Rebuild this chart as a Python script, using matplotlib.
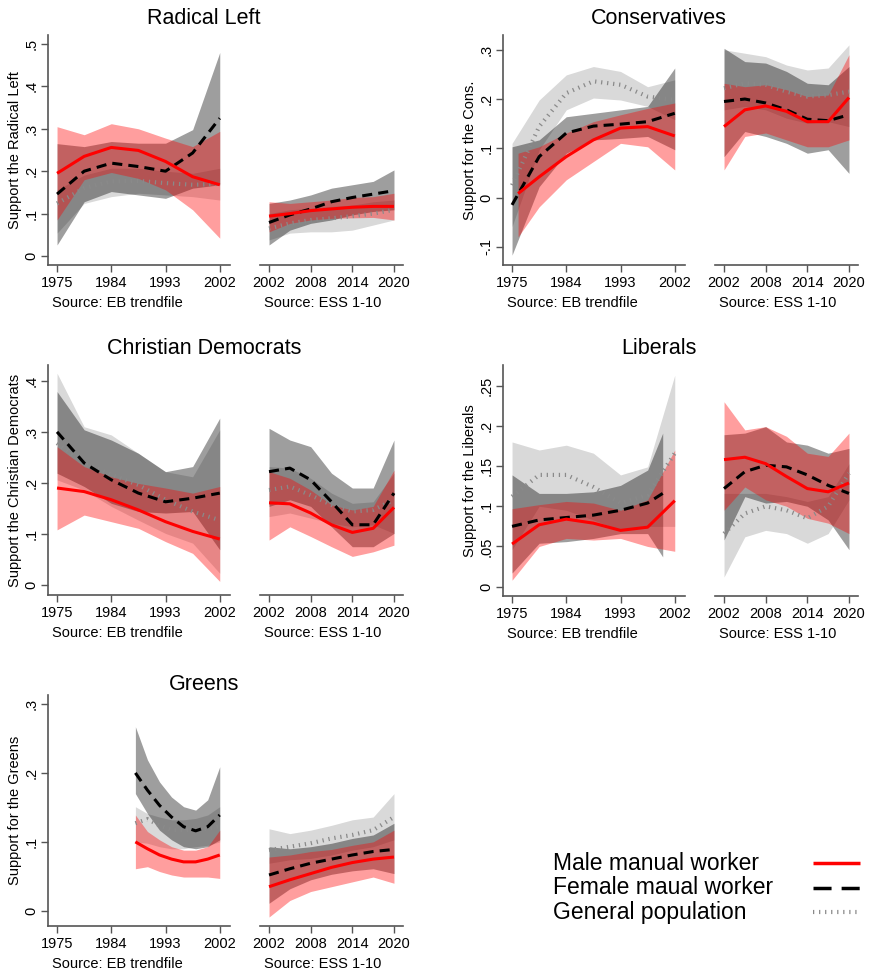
import matplotlib
matplotlib.use('Agg')
import matplotlib.pyplot as plt
from matplotlib.lines import Line2D

plt.rcParams['font.family'] = ['Liberation Sans', 'DejaVu Sans']

# ---- data: each group = [mean, lower CI, upper CI] ----
eb_years = [1975, 1979.5, 1984, 1988.5, 1993, 1997.5, 2002]
ess_years = [2002, 2005, 2008, 2011, 2014, 2017, 2020]
cons_eb_male_years = [1976, 1979.5, 1984, 1988.5, 1993, 1997.5, 2002]
lib_eb_female_years = [1975, 1979.5, 1984, 1988.5, 1993, 1997.5, 2000]
grn_eb_years = [1988, 1990, 1992, 1994, 1996, 1998, 2000, 2002]

# Radical Left
rl_eb_male = [[0.195, 0.235, 0.256, 0.249, 0.223, 0.187, 0.168],
              [0.085, 0.180, 0.197, 0.183, 0.156, 0.109, 0.042],
              [0.305, 0.286, 0.312, 0.300, 0.278, 0.258, 0.294]]
rl_eb_female = [[0.146, 0.200, 0.219, 0.211, 0.200, 0.243, 0.325],
                [0.026, 0.128, 0.152, 0.144, 0.136, 0.160, 0.168],
                [0.265, 0.258, 0.270, 0.266, 0.266, 0.298, 0.480]]
rl_eb_gen = [[0.124, 0.160, 0.176, 0.177, 0.172, 0.168, 0.170],
             [0.054, 0.124, 0.140, 0.148, 0.144, 0.140, 0.132],
             [0.156, 0.191, 0.207, 0.207, 0.200, 0.195, 0.207]]
rl_ess_male = [[0.094, 0.100, 0.107, 0.111, 0.115, 0.117, 0.117],
               [0.057, 0.077, 0.085, 0.089, 0.090, 0.091, 0.085],
               [0.128, 0.124, 0.128, 0.132, 0.138, 0.140, 0.148]]
rl_ess_female = [[0.079, 0.097, 0.111, 0.128, 0.138, 0.146, 0.154],
                 [0.026, 0.061, 0.077, 0.085, 0.097, 0.105, 0.109],
                 [0.124, 0.132, 0.144, 0.160, 0.168, 0.176, 0.203]]
rl_ess_gen = [[0.065, 0.077, 0.085, 0.089, 0.094, 0.100, 0.109],
              [0.038, 0.054, 0.057, 0.057, 0.061, 0.073, 0.085],
              [0.100, 0.109, 0.113, 0.117, 0.120, 0.128, 0.132]]

# Conservatives
cons_eb_male = [[0.008, 0.042, 0.083, 0.117, 0.141, 0.144, 0.125],
                [-0.080, -0.019, 0.036, 0.073, 0.110, 0.103, 0.056],
                [0.090, 0.103, 0.131, 0.154, 0.168, 0.181, 0.192]]
cons_eb_female = [[-0.015, 0.083, 0.131, 0.145, 0.149, 0.154, 0.171],
                  [-0.117, 0.022, 0.090, 0.117, 0.120, 0.124, 0.097],
                  [0.103, 0.117, 0.164, 0.171, 0.178, 0.185, 0.263]]
cons_eb_gen = [[0.025, 0.144, 0.212, 0.236, 0.229, 0.205, 0.198],
               [-0.059, 0.097, 0.178, 0.202, 0.198, 0.185, 0.158],
               [0.110, 0.198, 0.249, 0.266, 0.256, 0.225, 0.239]]
cons_ess_male = [[0.144, 0.178, 0.186, 0.175, 0.154, 0.154, 0.203],
                 [0.056, 0.124, 0.131, 0.117, 0.103, 0.103, 0.117],
                 [0.232, 0.225, 0.229, 0.219, 0.205, 0.208, 0.290]]
cons_ess_female = [[0.195, 0.200, 0.192, 0.178, 0.159, 0.156, 0.168],
                   [0.083, 0.134, 0.124, 0.110, 0.090, 0.097, 0.049],
                   [0.303, 0.276, 0.273, 0.256, 0.232, 0.229, 0.266]]
cons_ess_gen = [[0.222, 0.232, 0.229, 0.215, 0.205, 0.208, 0.215],
                [0.178, 0.185, 0.178, 0.161, 0.151, 0.154, 0.144],
                [0.300, 0.293, 0.286, 0.269, 0.259, 0.263, 0.310]]

# Christian Democrats
cd_eb_male = [[0.190, 0.183, 0.167, 0.147, 0.124, 0.105, 0.090],
              [0.108, 0.137, 0.124, 0.111, 0.085, 0.062, 0.007],
              [0.271, 0.232, 0.212, 0.199, 0.190, 0.180, 0.193]]
cd_eb_female = [[0.300, 0.239, 0.206, 0.180, 0.163, 0.170, 0.180],
                [0.219, 0.193, 0.160, 0.144, 0.141, 0.144, 0.069],
                [0.379, 0.304, 0.284, 0.258, 0.222, 0.232, 0.327]]
cd_eb_gen = [[0.278, 0.239, 0.216, 0.196, 0.167, 0.144, 0.127],
             [0.206, 0.186, 0.154, 0.127, 0.101, 0.082, 0.023],
             [0.415, 0.310, 0.294, 0.258, 0.222, 0.212, 0.304]]
cd_ess_male = [[0.161, 0.159, 0.141, 0.118, 0.103, 0.111, 0.152],
               [0.088, 0.114, 0.095, 0.075, 0.056, 0.065, 0.078],
               [0.222, 0.209, 0.186, 0.157, 0.147, 0.154, 0.225]]
cd_ess_female = [[0.222, 0.229, 0.206, 0.163, 0.118, 0.118, 0.180],
                 [0.154, 0.167, 0.154, 0.114, 0.075, 0.075, 0.101],
                 [0.307, 0.284, 0.271, 0.219, 0.190, 0.190, 0.284]]
cd_ess_gen = [[0.186, 0.193, 0.176, 0.157, 0.144, 0.147, 0.167],
              [0.134, 0.141, 0.131, 0.121, 0.114, 0.118, 0.101],
              [0.232, 0.229, 0.209, 0.180, 0.160, 0.163, 0.219]]

# Liberals
lib_eb_male = [[0.053, 0.077, 0.084, 0.079, 0.070, 0.074, 0.107],
               [0.008, 0.050, 0.060, 0.058, 0.060, 0.050, 0.044],
               [0.097, 0.102, 0.106, 0.104, 0.095, 0.108, 0.170]]
lib_eb_female = [[0.075, 0.083, 0.086, 0.089, 0.095, 0.104, 0.116],
                 [0.017, 0.054, 0.056, 0.060, 0.066, 0.066, 0.037],
                 [0.139, 0.116, 0.116, 0.118, 0.126, 0.145, 0.191]]
lib_eb_gen = [[0.112, 0.139, 0.139, 0.124, 0.104, 0.114, 0.166],
              [0.046, 0.100, 0.095, 0.083, 0.070, 0.075, 0.075],
              [0.180, 0.170, 0.176, 0.166, 0.139, 0.149, 0.263]]
lib_ess_male = [[0.158, 0.161, 0.153, 0.137, 0.122, 0.118, 0.129],
                [0.095, 0.124, 0.108, 0.100, 0.085, 0.079, 0.066],
                [0.230, 0.195, 0.199, 0.187, 0.166, 0.162, 0.191]]
lib_ess_female = [[0.122, 0.143, 0.151, 0.149, 0.139, 0.126, 0.116],
                  [0.058, 0.112, 0.104, 0.106, 0.100, 0.083, 0.046],
                  [0.189, 0.191, 0.199, 0.180, 0.176, 0.166, 0.172]]
lib_ess_gen = [[0.066, 0.091, 0.100, 0.095, 0.085, 0.100, 0.141],
               [0.012, 0.062, 0.070, 0.066, 0.054, 0.066, 0.108],
               [0.116, 0.116, 0.116, 0.112, 0.106, 0.112, 0.153]]

# Greens
grn_eb_male = [[0.100, 0.090, 0.081, 0.075, 0.071, 0.071, 0.075, 0.081],
               [0.061, 0.064, 0.057, 0.052, 0.049, 0.049, 0.049, 0.047],
               [0.139, 0.115, 0.103, 0.093, 0.088, 0.088, 0.093, 0.117]]
grn_eb_female = [[0.200, 0.175, 0.153, 0.136, 0.122, 0.116, 0.122, 0.139],
                 [0.170, 0.141, 0.117, 0.103, 0.093, 0.090, 0.093, 0.103],
                 [0.267, 0.219, 0.187, 0.165, 0.151, 0.146, 0.161, 0.209]]
grn_eb_gen = [[0.127, 0.133, 0.124, 0.117, 0.117, 0.119, 0.119, 0.123],
              [0.100, 0.098, 0.093, 0.090, 0.090, 0.093, 0.095, 0.100],
              [0.151, 0.141, 0.136, 0.132, 0.132, 0.134, 0.139, 0.151]]
grn_ess_male = [[0.035, 0.045, 0.054, 0.063, 0.070, 0.075, 0.078],
                [-0.009, 0.015, 0.028, 0.035, 0.042, 0.049, 0.040],
                [0.078, 0.081, 0.086, 0.089, 0.095, 0.100, 0.117]]
grn_ess_female = [[0.052, 0.061, 0.069, 0.075, 0.081, 0.086, 0.089],
                  [0.011, 0.032, 0.045, 0.053, 0.058, 0.061, 0.054],
                  [0.093, 0.090, 0.093, 0.098, 0.105, 0.110, 0.127]]
grn_ess_gen = [[0.088, 0.093, 0.098, 0.105, 0.110, 0.117, 0.136],
               [0.069, 0.074, 0.076, 0.081, 0.088, 0.093, 0.103],
               [0.119, 0.112, 0.117, 0.124, 0.132, 0.136, 0.170]]

titles = ['Radical Left', 'Conservatives', 'Christian Democrats', 'Liberals', 'Greens']
ylabels = ['Support the Radical Left', 'Support for the Cons.',
           'Support the Christian Democrats', 'Support for the Liberals',
           'Support for the Greens']
yticks = [[0, .1, .2, .3, .4, .5], [-.1, 0, .1, .2, .3], [0, .1, .2, .3, .4],
          [0, .05, .1, .15, .2, .25], [0, .1, .2, .3]]
eb_ticks = [1975, 1984, 1993, 2002]
ess_ticks = [2002, 2008, 2014, 2020]
legend_labels = ['Male manual worker', 'Female maual worker', 'General population']

# ---- styling ----
W, H = 870, 974
RED = '#ff0000'
AXC = '#555555'
male_style = dict(color=RED, lw=2.2, solid_capstyle='butt')
fem_style = dict(color='black', lw=2.2, linestyle=(0, (3.3, 2.0)), dash_capstyle='butt')
gen_style = dict(color='#8a8a8a', lw=3.0, linestyle=(0, (0.3, 1.15)), dash_capstyle='butt')


def fmt(v):
    s = ('%g' % v)
    if s.startswith('0.'):
        s = s[1:]
    elif s.startswith('-0.'):
        s = '-' + s[2:]
    return s


def px_axes(fig, x0, x1, y0, y1):
    return fig.add_axes([x0 / W, 1 - y1 / H, (x1 - x0) / W, (y1 - y0) / H])


def draw(ax, gen, gyears, fem, fyears, male, myears):
    ax.fill_between(gyears, gen[1], gen[2], color='black', alpha=0.15, lw=0)
    ax.plot(gyears, gen[0], **gen_style)
    ax.fill_between(fyears, fem[1], fem[2], color='black', alpha=0.38, lw=0)
    ax.plot(fyears, fem[0], **fem_style)
    ax.fill_between(myears, male[1], male[2], color=RED, alpha=0.38, lw=0)
    ax.plot(myears, male[0], **male_style)


def style_axes(ax, left_spine):
    for s in ['top', 'right']:
        ax.spines[s].set_visible(False)
    ax.spines['bottom'].set_color(AXC)
    ax.spines['bottom'].set_linewidth(1.2)
    if left_spine:
        ax.spines['left'].set_color(AXC)
        ax.spines['left'].set_linewidth(1.2)
        ax.tick_params(axis='y', direction='out', length=5, width=1, color=AXC,
                       labelsize=10.5, pad=2, labelrotation=90)
        for t in ax.get_yticklabels():
            t.set_va('center')
    else:
        ax.spines['left'].set_visible(False)
        ax.tick_params(axis='y', left=False, labelleft=False)
    ax.tick_params(axis='x', direction='out', length=5, width=1, color=AXC,
                   labelsize=10.5, pad=3)
    ax.patch.set_alpha(0)


fig = plt.figure(figsize=(W / 100, H / 100), dpi=100)

# panel layout in pixels: (col offset, top, bottom, ylim)
layout = [(0, 35, 265, (-0.0212, 0.5212)),
          (455, 35, 265, (-0.137, 0.330)),
          (0, 365, 595, (-0.0196, 0.431)),
          (455, 365, 596, (-0.0116, 0.2757)),
          (0, 695, 926, (-0.022, 0.313))]
title_y = [18, 18, 349, 349, 685]

panel_data = [
    (rl_eb_gen, eb_years, rl_eb_female, eb_years, rl_eb_male, eb_years,
     rl_ess_gen, rl_ess_female, rl_ess_male),
    (cons_eb_gen, eb_years, cons_eb_female, eb_years, cons_eb_male, cons_eb_male_years,
     cons_ess_gen, cons_ess_female, cons_ess_male),
    (cd_eb_gen, eb_years, cd_eb_female, eb_years, cd_eb_male, eb_years,
     cd_ess_gen, cd_ess_female, cd_ess_male),
    (lib_eb_gen, eb_years, lib_eb_female, lib_eb_female_years, lib_eb_male, eb_years,
     lib_ess_gen, lib_ess_female, lib_ess_male),
    (grn_eb_gen, grn_eb_years, grn_eb_female, grn_eb_years, grn_eb_male, grn_eb_years,
     grn_ess_gen, grn_ess_female, grn_ess_male),
]

for i, (off, top, bot, ylim) in enumerate(layout):
    g, gy, f, fy, m, my, sg, sf, sm = panel_data[i]
    ax1 = px_axes(fig, 48 + off, 230 + off, top, bot)
    ax2 = px_axes(fig, 260 + off, 403 + off, top, bot)

    draw(ax1, g, gy, f, fy, m, my)
    draw(ax2, sg, ess_years, sf, ess_years, sm, ess_years)

    ax1.set_xlim(1973.5, 2003.7)
    ax2.set_xlim(2000.7, 2021.3)
    for ax in (ax1, ax2):
        ax.set_ylim(*ylim)
    ax1.set_xticks(eb_ticks)
    ax2.set_xticks(ess_ticks)
    ax1.set_yticks(yticks[i])
    ax1.set_yticklabels([fmt(v) for v in yticks[i]])
    style_axes(ax1, True)
    style_axes(ax2, False)

    fig.text((15 + off) / W, 1 - (top + bot) / 2 / H, ylabels[i], rotation=90,
             ha='center', va='center', fontsize=10.5)
    fig.text((204 + off) / W, 1 - title_y[i] / H, titles[i],
             ha='center', va='center', fontsize=15.5)
    fig.text((117 + off) / W, 1 - (bot + 38) / H, 'Source: EB trendfile',
             ha='center', va='center', fontsize=10.5)
    fig.text((323 + off) / W, 1 - (bot + 38) / H, 'Source: ESS 1-10',
             ha='center', va='center', fontsize=10.5)

# legend
leg_y = [863, 888, 912]
leg_styles = [dict(color=RED, lw=2.5),
              dict(color='black', lw=2.5, linestyle=(0, (5.2, 2.9))),
              dict(color='#8a8a8a', lw=3.0, linestyle=(0, (0.3, 1.15)))]
for lab, yy, st in zip(legend_labels, leg_y, leg_styles):
    fig.text(553 / W, 1 - yy / H, lab, ha='left', va='center', fontsize=16.5)
    fig.add_artist(Line2D([813 / W, 860 / W], [1 - yy / H, 1 - yy / H],
                          transform=fig.transFigure, solid_capstyle='butt',
                          dash_capstyle='butt', **st))

fig.savefig('out.png', dpi=100)
